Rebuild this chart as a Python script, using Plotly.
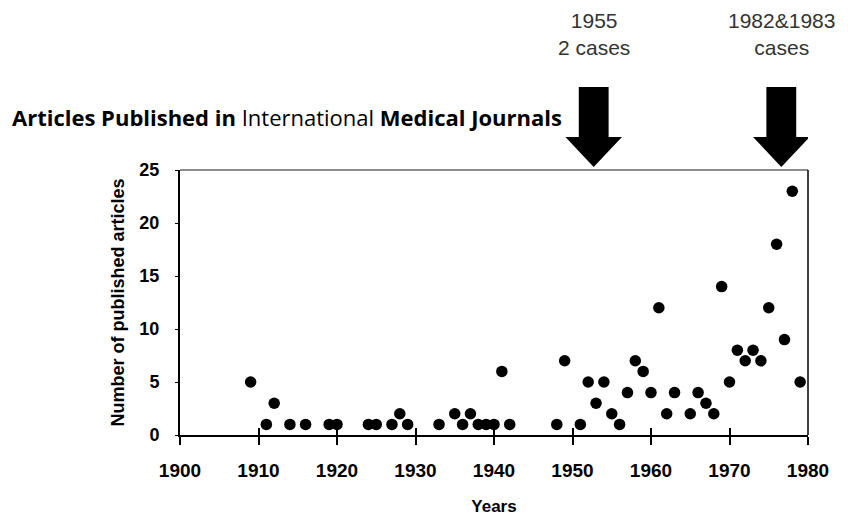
import plotly.graph_objects as go

years = [1909, 1911, 1912, 1914, 1916, 1919, 1920, 1924, 1925, 1927, 1928, 1929,
         1933, 1935, 1936, 1937, 1938, 1939, 1940, 1941, 1942, 1948, 1949, 1951,
         1952, 1953, 1954, 1955, 1956, 1957, 1958, 1959, 1960, 1961, 1962, 1963,
         1965, 1966, 1967, 1968, 1969, 1970, 1971, 1972, 1973, 1974, 1975, 1976,
         1977, 1978, 1979]
articles = [5, 1, 3, 1, 1, 1, 1, 1, 1, 1, 2, 1,
            1, 2, 1, 2, 1, 1, 1, 6, 1, 1, 7, 1,
            5, 3, 5, 2, 1, 4, 7, 6, 4, 12, 2, 4,
            2, 4, 3, 2, 14, 5, 8, 7, 8, 7, 12, 18,
            9, 23, 5]

x_ticks = [1900, 1910, 1920, 1930, 1940, 1950, 1960, 1970, 1980]
y_ticks = [0, 5, 10, 15, 20, 25]

arrow_years = [1952.7, 1976.6]
arrow_labels = ["1955<br>2 cases", "1982&1983<br>cases"]

title_text = ("<b>Articles Published in</b> International "
              "<b>Medical Journals</b>")

W, H = 848, 517
ML, MR, MT, MB = 172, 48, 162, 90

fig = go.Figure()
fig.add_trace(go.Scatter(
    x=years, y=articles, mode="markers",
    marker=dict(size=11.5, color="black", line=dict(width=0)),
    showlegend=False, hoverinfo="x+y",
))
# invisible trace on overlaid axis to show inward ticks
fig.add_trace(go.Scatter(x=[x_ticks[0], x_ticks[-1]], y=[0, 0], xaxis="x2",
                         mode="markers", marker=dict(opacity=0), showlegend=False,
                         hoverinfo="skip"))

fig.update_layout(
    width=W, height=H,
    margin=dict(l=ML, r=MR, t=MT, b=MB, autoexpand=False),
    paper_bgcolor="white", plot_bgcolor="white",
    font=dict(family="Liberation Sans, Arial, sans-serif", color="black"),
    title=dict(text=title_text, xref="container", yref="container",
               x=4 / W, xanchor="left", y=1 - 110 / H, yanchor="middle",
               font=dict(family="Open Sans, sans-serif", size=22, color="black")),
    xaxis=dict(range=[1900, 1980], tickmode="array", tickvals=x_ticks,
               ticks="outside", ticklen=8, tickwidth=1.5, tickcolor="black",
               showline=True, linewidth=2, linecolor="black",
               showgrid=False, zeroline=False, automargin=False,
               tickfont=dict(size=19, color="black", weight="bold"),
               ticklabelstandoff=9,
               title=dict(text="<b>Years</b>", font=dict(size=17), standoff=20)),
    xaxis2=dict(range=[1900, 1980], overlaying="x", tickmode="array",
                tickvals=x_ticks, ticks="inside", ticklen=7, tickwidth=1.5,
                tickcolor="black", showticklabels=False, showgrid=False,
                zeroline=False, showline=False, side="bottom", automargin=False),
    yaxis=dict(range=[0, 25], tickmode="array", tickvals=y_ticks,
               ticks="outside", ticklen=3, tickwidth=1, tickcolor="black",
               showline=True, linewidth=2, linecolor="black",
               showgrid=False, zeroline=False, automargin=False,
               tickfont=dict(size=18, color="black", weight="bold"),
               ticklabelstandoff=12,
               title=dict(text="<b>Number of published articles</b>",
                          font=dict(size=18), standoff=10)),
)

# top and right frame lines
fig.add_shape(type="line", xref="paper", yref="paper", x0=0, x1=1, y0=1, y1=1,
              line=dict(color="#666666", width=1.5))
fig.add_shape(type="line", xref="paper", yref="paper", x0=1, x1=1, y0=0, y1=1,
              line=dict(color="black", width=1.5))

# thick block arrows (positions in page pixels converted to paper units)
plot_h = H - MT - MB
plot_bottom = 8 + H - MB
def py(pix):
    return (plot_bottom - pix) / plot_h

shaft_half = 1.9
head_half = 3.6
y_top, y_head, y_tip = py(87), py(137), py(167)
for ay, lab in zip(arrow_years, arrow_labels):
    path = (f"M {ay - shaft_half},{y_top} L {ay + shaft_half},{y_top} "
            f"L {ay + shaft_half},{y_head} L {ay + head_half},{y_head} "
            f"L {ay},{y_tip} L {ay - head_half},{y_head} "
            f"L {ay - shaft_half},{y_head} Z")
    fig.add_shape(type="path", xref="x", yref="paper", path=path,
                  fillcolor="black", line=dict(color="black", width=0))
    fig.add_annotation(x=ay, y=py(34), xref="x", yref="paper", text=lab,
                       showarrow=False, xanchor="center", yanchor="middle",
                       borderpad=0,
                       font=dict(size=21, color="#333333",
                                 family="Liberation Sans, Arial, sans-serif"))

fig.write_html("out.html")
